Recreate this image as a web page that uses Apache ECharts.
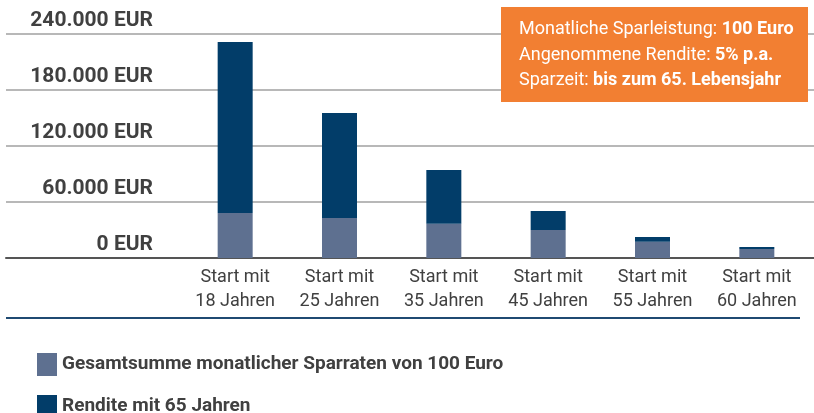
<!DOCTYPE html>
<html>
<head>
<meta charset="utf-8">
<script src="https://cdn.jsdelivr.net/npm/echarts@6/dist/echarts.min.js"></script>
<style>
  html, body { margin: 0; padding: 0; background: #fff; }
  #chart { width: 814px; height: 413px; }
</style>
</head>
<body>
<div id="chart"></div>
<script>
const categories = [
  'Start mit\n18 Jahren',
  'Start mit\n25 Jahren',
  'Start mit\n35 Jahren',
  'Start mit\n45 Jahren',
  'Start mit\n55 Jahren',
  'Start mit\n60 Jahren'
];
const sparraten = [48200, 42900, 36700, 30000, 17500, 9600];
const rendite = [183200, 112500, 57600, 20400, 5000, 2200];
const yTicks = [0, 60000, 120000, 180000, 240000];
const seriesNames = ['Gesamtsumme monatlicher Sparraten von 100 Euro', 'Rendite mit 65 Jahren'];

const FONT = 'Roboto, "Noto Sans", sans-serif';
const TEXT = '#404040';
const LIGHT = '#5e7090';
const DARK = '#023d69';

const fmt = (v) => v.toLocaleString('de-DE') + ' EUR';

const chart = echarts.init(document.getElementById('chart'));

// one legend per row, stacked
const legendRow = (name, top) => ({
  left: 32,
  top: top,
  itemWidth: 20,
  itemHeight: 23,
  icon: 'rect',
  data: [name],
  textStyle: { color: TEXT, fontSize: 19, fontWeight: 'bold', fontFamily: FONT }
});

chart.setOption({
  animation: false,
  backgroundColor: '#fff',
  textStyle: { fontFamily: FONT },
  grid: [
    // full-width grid for the horizontal rules
    { left: 6, right: 0, top: 34, bottom: 155 },
    // grid for the bars
    { left: 183, right: 5, top: 34, bottom: 155 }
  ],
  legend: [legendRow(seriesNames[0], 348), legendRow(seriesNames[1], 390)],
  xAxis: [
    {
      gridIndex: 0,
      type: 'value',
      min: 0,
      max: 1,
      axisLine: { show: true, onZero: false, lineStyle: { color: '#555', width: 2 } },
      axisTick: { show: false },
      axisLabel: { show: false },
      splitLine: { show: false }
    },
    {
      gridIndex: 1,
      type: 'category',
      data: categories,
      axisLine: { show: false },
      axisTick: { show: false },
      axisLabel: {
        color: TEXT,
        fontSize: 18,
        lineHeight: 24,
        margin: 7,
        fontFamily: FONT
      }
    }
  ],
  yAxis: [
    {
      gridIndex: 0,
      type: 'value',
      min: yTicks[0],
      max: yTicks[yTicks.length - 1],
      interval: 60000,
      axisLine: { show: false },
      axisTick: { show: false },
      axisLabel: { show: false },
      splitLine: { show: true, lineStyle: { color: '#a0a0a0', width: 1.5 } }
    },
    {
      gridIndex: 1,
      type: 'value',
      min: yTicks[0],
      max: yTicks[yTicks.length - 1],
      interval: 60000,
      axisLine: { show: false },
      axisTick: { show: false },
      splitLine: { show: false },
      axisLabel: {
        color: TEXT,
        fontSize: 21,
        fontWeight: 'bold',
        fontFamily: FONT,
        margin: 30,
        verticalAlign: 'bottom',
        lineHeight: 21,
        padding: [0, 0, 3, 0],
        formatter: (v) => (yTicks.includes(v) ? fmt(v) : '')
      }
    }
  ],
  series: [
    {
      name: seriesNames[0],
      type: 'bar',
      xAxisIndex: 1,
      yAxisIndex: 1,
      stack: 'total',
      barWidth: 35,
      itemStyle: { color: LIGHT },
      data: sparraten
    },
    {
      name: seriesNames[1],
      type: 'bar',
      xAxisIndex: 1,
      yAxisIndex: 1,
      stack: 'total',
      barWidth: 35,
      itemStyle: { color: DARK },
      data: rendite
    }
  ],
  graphic: [
    {
      type: 'line',
      shape: { x1: 6, y1: 318, x2: 800, y2: 318 },
      style: { stroke: '#1f4a72', lineWidth: 2 }
    },
    {
      type: 'rect',
      left: 501,
      top: 7,
      shape: { width: 307, height: 95 },
      style: { fill: '#f27f32' },
      z: 10
    },
    {
      type: 'text',
      left: 519,
      top: 17,
      z: 11,
      style: {
        text: [
          'Monatliche Sparleistung: {b|100 Euro}',
          'Angenommene Rendite: {b|5% p.a.}',
          'Sparzeit: {b|bis zum 65. Lebensjahr}'
        ].join('\n'),
        fill: '#fff',
        font: '18px ' + FONT,
        lineHeight: 25.5,
        rich: {
          b: { fill: '#fff', fontWeight: 'bold', fontSize: 18, fontFamily: FONT, lineHeight: 25.5 }
        }
      }
    }
  ]
});
</script>
</body>
</html>
